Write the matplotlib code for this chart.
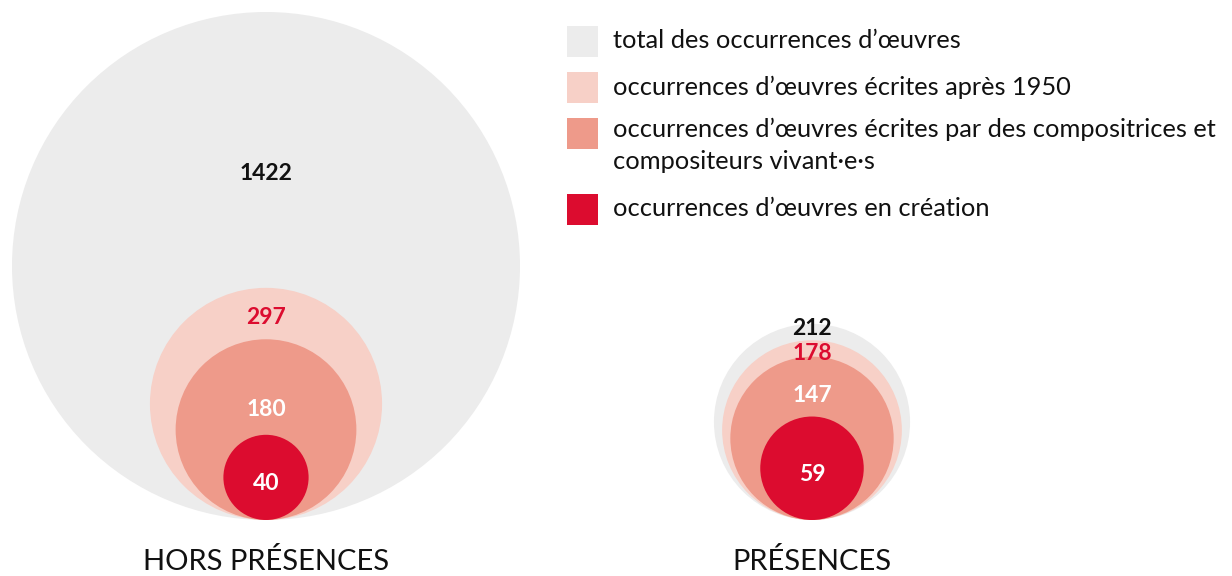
import matplotlib
matplotlib.use("Agg")
import matplotlib.pyplot as plt
from matplotlib.patches import Circle, Rectangle
import numpy as np

groups = ["HORS PRÉSENCES", "PRÉSENCES"]
values_hors = [1422, 297, 180, 40]
values_pres = [212, 178, 147, 59]
legend_labels = [
    "total des occurrences d\u2019\u0153uvres",
    "occurrences d\u2019\u0153uvres écrites après 1950",
    "occurrences d\u2019\u0153uvres écrites par des compositrices et\ncompositeurs vivant\u00b7e\u00b7s",
    "occurrences d\u2019\u0153uvres en création",
]

colors = ["#ececec", "#f7d0c7", "#ee9a8a", "#dc0c2f"]
label_colors = [["#111111", "#dc0c2f", "white", "white"],
                ["#111111", "#dc0c2f", "white", "white"]]
# label vertical offsets below circle top (pixels), except last centered
label_offsets = [[159, 28, 68, None], [3, 11, 37, None]]

plt.rcParams['font.family'] = ['Lato', 'DejaVu Sans']

W, H = 1232, 576
fig = plt.figure(figsize=(W / 100, H / 100), dpi=100)
ax = fig.add_axes([0, 0, 1, 1])
ax.set_xlim(0, W)
ax.set_ylim(H, 0)
ax.set_aspect('equal')
ax.axis('off')

scale = 254 / np.sqrt(max(values_hors))
bottom = 520
centers_x = [266, 812]

for gi, (vals, cx) in enumerate(zip([values_hors, values_pres], centers_x)):
    for i, v in enumerate(vals):
        r = scale * np.sqrt(v)
        ax.add_patch(Circle((cx, bottom - r), r, facecolor=colors[i], edgecolor='none', zorder=i))
    for i, v in enumerate(vals):
        r = scale * np.sqrt(v)
        off = label_offsets[gi][i]
        y = bottom - r + 4 if off is None else bottom - 2 * r + off
        ax.text(cx, y, str(v), ha='center', va='center_baseline', fontsize=16.5, fontweight='bold',
                color=label_colors[gi][i], zorder=10)
    ax.text(cx, 562, groups[gi], ha='center', va='center', fontsize=21, color='#111111')

# legend
leg_y = [41, 87, 133, 209]
for i, (lab, y) in enumerate(zip(legend_labels, leg_y)):
    ax.add_patch(Rectangle((567, y - 15.5), 31, 31, facecolor=colors[i], edgecolor='none'))
    if '\n' in lab:
        ax.text(613, y - 15, lab, ha='left', va='top', fontsize=18.3, color='#111111', linespacing=1.45)
    else:
        ax.text(613, y, lab, ha='left', va='center', fontsize=18.3, color='#111111')

fig.savefig("out.png", dpi=100)
